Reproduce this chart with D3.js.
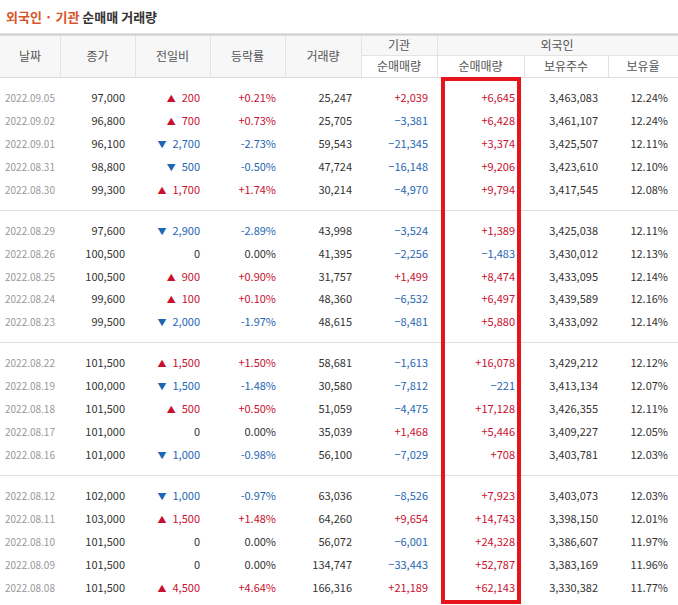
<!DOCTYPE html><html><head><meta charset="utf-8"><script src="https://cdn.jsdelivr.net/npm/d3@7"></script>
<style>body{margin:0;background:#fff}text{font-family:"Noto Sans CJK KR","Noto Sans",sans-serif}</style></head><body><svg id="c" width="678" height="605"></svg>
<script>
const dates=["2022.09.05","2022.09.02","2022.09.01","2022.08.31","2022.08.30","2022.08.29","2022.08.26","2022.08.25","2022.08.24","2022.08.23","2022.08.22","2022.08.19","2022.08.18","2022.08.17","2022.08.16","2022.08.12","2022.08.11","2022.08.10","2022.08.09","2022.08.08"];
const close=[97000,96800,96100,98800,99300,97600,100500,100500,99600,99500,101500,100000,101500,101000,101000,102000,103000,101500,101500,101500];
const change=[200,700,-2700,-500,1700,-2900,0,900,100,-2000,1500,-1500,500,0,-1000,-1000,1500,0,0,4500];
const rate=[0.21,0.73,-2.73,-0.50,1.74,-2.89,0.00,0.90,0.10,-1.97,1.50,-1.48,0.50,0.00,-0.98,-0.97,1.48,0.00,0.00,4.64];
const volume=[25247,25705,59543,47724,30214,43998,41395,31757,48360,48615,58681,30580,51059,35039,56100,63036,64260,56072,134747,166316];
const inst=[2039,-3381,-21345,-16148,-4970,-3524,-2256,1499,-6532,-8481,-1613,-7812,-4475,1468,-7029,-8526,9654,-6001,-33443,21189];
const foreign=[6645,6428,3374,9206,9794,1389,-1483,8474,6497,5880,16078,-221,17128,5446,708,7923,14743,24328,52787,62143];
const shares=[3463083,3461107,3425507,3423610,3417545,3425038,3430012,3433095,3439589,3433092,3429212,3413134,3426355,3409227,3403781,3403073,3398150,3386607,3383169,3330382];
const holdPct=[12.24,12.24,12.11,12.10,12.08,12.11,12.13,12.14,12.16,12.14,12.12,12.07,12.11,12.05,12.03,12.03,12.01,11.97,11.96,11.77];
const headers=["날짜","종가","전일비","등락률","거래량"];
const svg=d3.select("#c");
const RED="#c8102e",BLUE="#1f66b3",GRAY="#999";
const fmt=d3.format(",");
const sg=v=>v>0?"+"+fmt(v):fmt(v);
const col=v=>v>0?RED:v<0?BLUE:"#333";
const bounds=[0,60,135,210,285,361,437,524,608,678];
const groupY=d3.scaleLinear().domain([0,1]).range([98,230.7]);
const rowStep=22.9;
const yOf=i=>groupY(Math.floor(i/5))+(i%5)*rowStep;
svg.append("text").attr("x",6).attr("y",22).attr("font-size",13).attr("font-weight","bold")
 .call(t=>{t.append("tspan").attr("fill","#d9552b").text("외국인 · 기관");t.append("tspan").attr("fill","#333").text(" 순매매 거래량");});
svg.append("rect").attr("x",0).attr("y",34).attr("width",678).attr("height",43).attr("fill","#f7f7f7");
svg.append("line").attr("x1",0).attr("x2",678).attr("y1",34.5).attr("y2",34.5).attr("stroke","#ccc").attr("stroke-width",2);
svg.append("line").attr("x1",0).attr("x2",678).attr("y1",77.5).attr("y2",77.5).attr("stroke","#ddd");
svg.append("line").attr("x1",361).attr("x2",678).attr("y1",55.5).attr("y2",55.5).attr("stroke","#e3e3e3");
svg.append("rect").attr("x",361).attr("y",56).attr("width",317).attr("height",21).attr("fill","#fff");
bounds.slice(1,-1).forEach(b=>{svg.append("line").attr("x1",b+.5).attr("x2",b+.5).attr("y1",b>437?56:35).attr("y2",77).attr("stroke","#e3e3e3");});
const ht=(x,y,s)=>svg.append("text").attr("x",x).attr("y",y).attr("text-anchor","middle").attr("font-size",12).attr("fill","#555").text(s);
headers.forEach((h,i)=>ht((bounds[i]+bounds[i+1])/2,61,h));
ht(399,50,"기관");ht(557,50,"외국인");
["순매매량","순매매량","보유주수","보유율"].forEach((h,i)=>ht((bounds[i+5]+bounds[i+6])/2,71,h));
[1,2,3].forEach(g=>{const y=Math.round(groupY(g)-21)+.5;svg.append("line").attr("x1",0).attr("x2",678).attr("y1",y).attr("y2",y).attr("stroke","#ddd");});
const cell=(x,y,s,c,a="end",fs=11)=>svg.append("text").attr("x",x).attr("y",y).attr("text-anchor",a).attr("font-size",fs).attr("fill",c).text(s);
dates.forEach((d,i)=>{const y=yOf(i)+4;
 cell(5,y,d,GRAY,"start",10);
 cell(125,y,fmt(close[i]),"#333");
 const c=change[i];
 const t=cell(200,y,fmt(Math.abs(c)),col(c));
 if(c!==0){const w=t.node().getComputedTextLength();cell(200-w-6,y,c>0?"▲":"▼",col(c),"end",9);}
 cell(276,y,(rate[i]>0?"+":"")+rate[i].toFixed(2)+"%",col(rate[i]));
 cell(352,y,fmt(volume[i]),"#333");
 cell(428,y,sg(inst[i]),col(inst[i]));
 cell(515,y,sg(foreign[i]),col(foreign[i]));
 cell(598,y,fmt(shares[i]),"#333");
 cell(668,y,holdPct[i].toFixed(2)+"%","#333");
});
svg.append("rect").attr("x",443).attr("y",79).attr("width",76).attr("height",523).attr("fill","none").attr("stroke","#e8141c").attr("stroke-width",4);
</script></body></html>
